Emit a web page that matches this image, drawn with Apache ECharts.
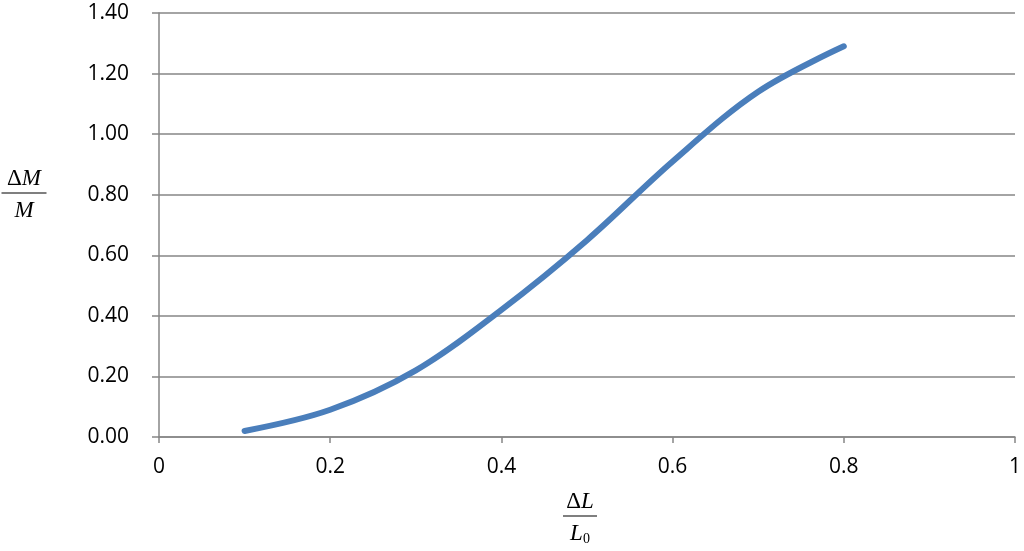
<!DOCTYPE html>
<html>
<head>
<meta charset="utf-8">
<script src="https://cdn.jsdelivr.net/npm/echarts@6/dist/echarts.min.js"></script>
<style>
  html, body { margin: 0; padding: 0; background: #fff; }
  #main { width: 1024px; height: 551px; }
</style>
</head>
<body>
<div id="main"></div>
<script>
// 数据
var strainX = [0.1, 0.2, 0.3, 0.4, 0.5, 0.6, 0.7, 0.8];
var massRatio = [0.02, 0.09, 0.22, 0.42, 0.65, 0.91, 1.14, 1.29];

var xTicks = [0, 0.2, 0.4, 0.6, 0.8, 1];
var yTicks = [0, 0.2, 0.4, 0.6, 0.8, 1.0, 1.2, 1.4];

var myChart = echarts.init(document.getElementById('main'));

var labelFont = { color: '#000', fontSize: 21, fontFamily: 'Open Sans' };
var titleFont = { fontFamily: 'Liberation Serif', fontSize: 23, fill: '#000' };

// 分数形式的坐标轴标题
const fraction = (cx, cy, num, den, barW) => ({
    type: 'group',
    children: [
        { type: 'text', x: cx, y: cy - 3, style: Object.assign({ text: num.text, rich: num.rich, align: 'center', verticalAlign: 'bottom' }, titleFont) },
        { type: 'line', shape: { x1: cx - barW / 2, y1: cy, x2: cx + barW / 2, y2: cy }, style: { stroke: '#000', lineWidth: 1.2 } },
        { type: 'text', x: cx, y: cy + 6, style: Object.assign({ text: den.text, rich: den.rich, align: 'center', verticalAlign: 'top' }, titleFont) }
    ]
});

const it = { fontFamily: 'Liberation Serif', fontSize: 23, fontStyle: 'italic' };
const up = { fontFamily: 'Liberation Serif', fontSize: 23 };
const sub = { fontFamily: 'Liberation Serif', fontSize: 14, padding: [10, 0, 0, 0] };

const option = {
    animation: false,
    grid: { left: 159, right: 9, top: 13, bottom: 114 },
    xAxis: {
        type: 'value',
        min: 0,
        max: 1,
        interval: 0.2,
        axisLine: { show: true, lineStyle: { color: '#868686', width: 1.5 } },
        axisTick: { show: true, length: 6, lineStyle: { color: '#868686', width: 1.5 } },
        splitLine: { show: false },
        axisLabel: Object.assign({ margin: 20, formatter: function (v) { return xTicks.indexOf(v) >= 0 ? String(v) : ''; } }, labelFont)
    },
    yAxis: {
        type: 'value',
        min: 0,
        max: 1.4,
        interval: 0.2,
        axisLine: { show: true, lineStyle: { color: '#868686', width: 1.5 } },
        axisTick: { show: true, length: 7, lineStyle: { color: '#868686', width: 1.5 } },
        splitLine: { show: true, lineStyle: { color: '#868686', width: 1.5 } },
        axisLabel: Object.assign({ margin: 30, formatter: function (v) { return v.toFixed(2); } }, labelFont)
    },
    series: [
        {
            type: 'line',
            data: strainX.map((x, i) => [x, massRatio[i]]),
            smooth: 0.35,
            showSymbol: false,
            lineStyle: { color: '#4A7EBB', width: 6, cap: 'round', join: 'round' }
        }
    ],
    graphic: [
        fraction(24, 193, { text: '{u|Δ}{i|M}', rich: { u: up, i: it } }, { text: '{i|M}', rich: { i: it } }, 45),
        fraction(580, 516, { text: '{u|Δ}{i|L}', rich: { u: up, i: it } }, { text: '{i|L}{s|0}', rich: { i: it, s: sub } }, 34)
    ]
};

myChart.setOption(option);
</script>
</body>
</html>
